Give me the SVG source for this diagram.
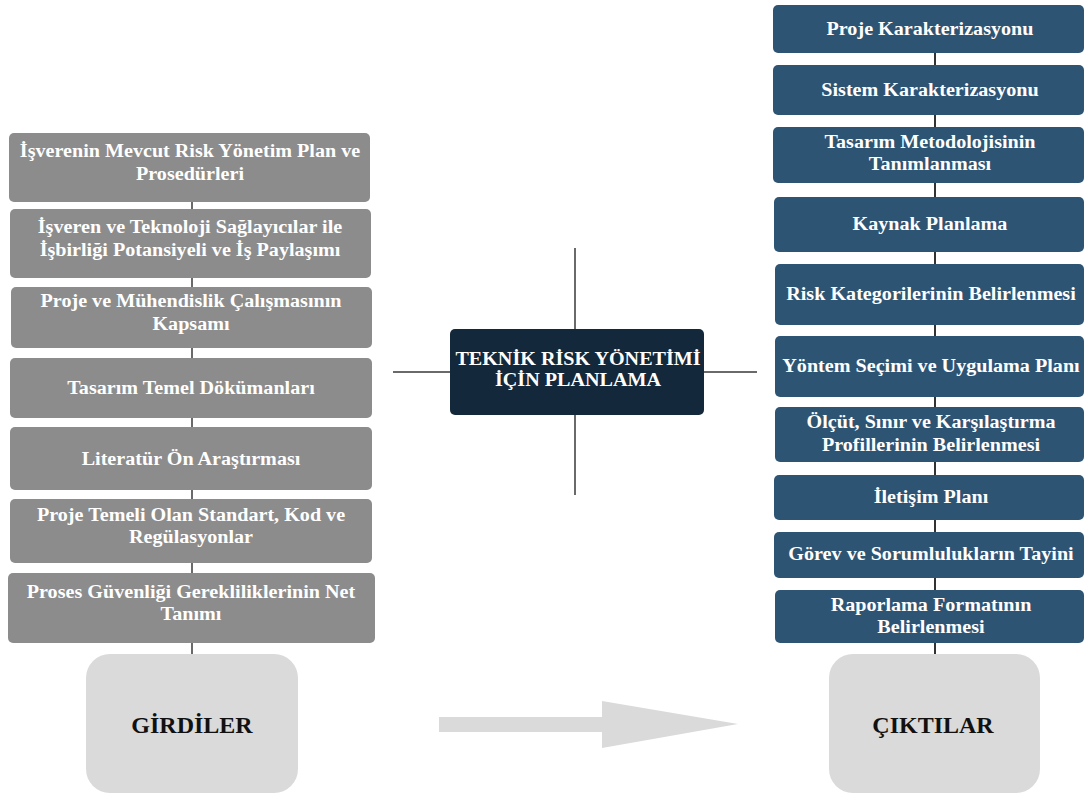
<svg xmlns="http://www.w3.org/2000/svg" width="1086" height="796" viewBox="0 0 1086 796">
  <style>
    .in { fill: #8c8c8c; }
    .out { fill: #2e5474; }
    .hub { fill: #13283a; }
    .term { fill: #dadada; }
    text { font-family: "Liberation Serif", "DejaVu Serif", serif; font-weight: bold; text-anchor: middle; }
    .t { fill: #ffffff; font-size: 19px; }
    .tt { fill: #111111; font-size: 24px; }
    .ln { stroke: #6a6a6a; stroke-width: 2; fill: none; }
    .lnd { stroke: #333333; stroke-width: 2; fill: none; }
  </style>
  <rect width="1086" height="796" fill="#ffffff"/>

  <!-- connectors -->
  <g id="connectors">
    <line class="ln" x1="192" y1="200" x2="192" y2="656"/>
    <line class="lnd" x1="935" y1="50" x2="935" y2="656"/>
    <line class="ln" x1="575" y1="248" x2="575" y2="330"/>
    <line class="ln" x1="575" y1="414" x2="575" y2="495"/>
    <line class="ln" x1="393" y1="372" x2="451" y2="372"/>
    <line class="ln" x1="703" y1="372" x2="757" y2="372"/>
    <g id="flow-arrow" fill="#dadada">
      <rect x="439" y="717" width="164" height="15"/>
      <polygon points="602,701 738,724 602,748"/>
    </g>
  </g>

  <!-- input column (labels slightly widened) -->
  <g id="in1"><rect class="in" x="9" y="133" width="361" height="69" rx="5"/>
    <g transform="translate(190 0) scale(1.06 1)">
      <text class="t" x="0" y="157.5">İşverenin Mevcut Risk Yönetim Plan ve</text>
      <text class="t" x="0" y="180">Prosedürleri</text></g></g>
  <g id="in2"><rect class="in" x="10" y="209" width="361" height="69" rx="5"/>
    <g transform="translate(190 0) scale(1.06 1)">
      <text class="t" x="0" y="233.5">İşveren ve Teknoloji Sağlayıcılar ile</text>
      <text class="t" x="0" y="256">İşbirliği Potansiyeli ve İş Paylaşımı</text></g></g>
  <g id="in3"><rect class="in" x="11" y="287" width="361" height="61" rx="5"/>
    <g transform="translate(191 0) scale(1.06 1)">
      <text class="t" x="0" y="307.5">Proje ve Mühendislik Çalışmasının</text>
      <text class="t" x="0" y="330">Kapsamı</text></g></g>
  <g id="in4"><rect class="in" x="10" y="358" width="362" height="60" rx="5"/>
    <g transform="translate(191 0) scale(1.06 1)">
      <text class="t" x="0" y="394.5">Tasarım Temel Dökümanları</text></g></g>
  <g id="in5"><rect class="in" x="10" y="427" width="362" height="63" rx="5"/>
    <g transform="translate(191 0) scale(1.06 1)">
      <text class="t" x="0" y="465">Literatür Ön Araştırması</text></g></g>
  <g id="in6"><rect class="in" x="10" y="499" width="362" height="64" rx="5"/>
    <g transform="translate(191 0) scale(1.06 1)">
      <text class="t" x="0" y="521">Proje Temeli Olan Standart, Kod ve</text>
      <text class="t" x="0" y="543.5">Regülasyonlar</text></g></g>
  <g id="in7"><rect class="in" x="8" y="573" width="367" height="70" rx="5"/>
    <g transform="translate(191 0) scale(1.06 1)">
      <text class="t" x="0" y="598">Proses Güvenliği Gerekliliklerinin Net</text>
      <text class="t" x="0" y="620.5">Tanımı</text></g></g>

  <!-- hub -->
  <g id="hub"><rect class="hub" x="450" y="329" width="254" height="86" rx="5"/>
    <g transform="translate(578 0) scale(1.06 1)">
      <text class="t" x="0" y="365">TEKNİK RİSK YÖNETİMİ</text>
      <text class="t" x="0" y="386.5">İÇİN PLANLAMA</text></g></g>

  <!-- output column -->
  <g id="out1"><rect class="out" x="773" y="5" width="311" height="48" rx="5"/>
    <g transform="translate(930 0) scale(1.06 1)">
      <text class="t" x="0" y="35.5">Proje Karakterizasyonu</text></g></g>
  <g id="out2"><rect class="out" x="773" y="65" width="311" height="50" rx="5"/>
    <g transform="translate(930 0) scale(1.06 1)">
      <text class="t" x="0" y="96.5">Sistem Karakterizasyonu</text></g></g>
  <g id="out3"><rect class="out" x="773" y="127" width="311" height="56" rx="5"/>
    <g transform="translate(930 0) scale(1.06 1)">
      <text class="t" x="0" y="148">Tasarım Metodolojisinin</text>
      <text class="t" x="0" y="170">Tanımlanması</text></g></g>
  <g id="out4"><rect class="out" x="774" y="197" width="310" height="55" rx="5"/>
    <g transform="translate(930 0) scale(1.06 1)">
      <text class="t" x="0" y="230.5">Kaynak Planlama</text></g></g>
  <g id="out5"><rect class="out" x="775" y="264" width="309" height="61" rx="5"/>
    <g transform="translate(931 0) scale(1.06 1)">
      <text class="t" x="0" y="300">Risk Kategorilerinin Belirlenmesi</text></g></g>
  <g id="out6"><rect class="out" x="775" y="336" width="309" height="61" rx="5"/>
    <g transform="translate(931 0) scale(1.06 1)">
      <text class="t" x="0" y="372">Yöntem Seçimi ve Uygulama Planı</text></g></g>
  <g id="out7"><rect class="out" x="775" y="407" width="309" height="55" rx="5"/>
    <g transform="translate(931 0) scale(1.06 1)">
      <text class="t" x="0" y="428">Ölçüt, Sınır ve Karşılaştırma</text>
      <text class="t" x="0" y="451">Profillerinin Belirlenmesi</text></g></g>
  <g id="out8"><rect class="out" x="774" y="475" width="310" height="45" rx="5"/>
    <g transform="translate(931 0) scale(1.06 1)">
      <text class="t" x="0" y="503.5">İletişim Planı</text></g></g>
  <g id="out9"><rect class="out" x="774" y="532" width="310" height="46" rx="5"/>
    <g transform="translate(931 0) scale(1.06 1)">
      <text class="t" x="0" y="560.5">Görev ve Sorumlulukların Tayini</text></g></g>
  <g id="out10"><rect class="out" x="775" y="590" width="309" height="53" rx="5"/>
    <g transform="translate(931 0) scale(1.06 1)">
      <text class="t" x="0" y="611.5">Raporlama Formatının</text>
      <text class="t" x="0" y="633">Belirlenmesi</text></g></g>

  <!-- terminal blocks -->
  <g id="girdiler"><rect class="term" x="86" y="654" width="212" height="139" rx="24"/>
    <text class="tt" x="192" y="733">GİRDİLER</text></g>
  <g id="ciktilar"><rect class="term" x="829" y="654" width="211" height="139" rx="24"/>
    <text class="tt" x="933" y="733">ÇIKTILAR</text></g>
</svg>
